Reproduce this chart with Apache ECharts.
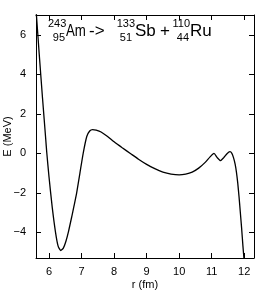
<!DOCTYPE html>
<html>
<head>
<meta charset="utf-8">
<script src="https://cdn.jsdelivr.net/npm/echarts@6/dist/echarts.min.js"></script>
<style>html,body{margin:0;padding:0;background:#fff;}#c{width:261px;height:294px;}</style>
</head>
<body>
<div id="c"></div>
<script>
const rValues = [5.60, 5.70, 5.80, 5.90, 5.93, 6.00, 6.10, 6.20, 6.28, 6.36, 6.44, 6.52, 6.60, 6.70, 6.77, 6.85, 6.95, 7.05, 7.16, 7.25, 7.34, 7.45, 7.60, 7.80, 8.00, 8.25, 8.50, 8.75, 9.00, 9.25, 9.50, 9.75, 10.00, 10.20, 10.40, 10.60, 10.80, 10.95, 11.07, 11.17, 11.27, 11.37, 11.47, 11.56, 11.62, 11.67, 11.72, 11.76, 11.80, 11.84, 11.88, 11.92, 11.96, 12.00];
const eValues = [7.30, 5.00, 2.80, 0.70, 0.05, -1.20, -2.75, -4.00, -4.70, -4.92, -4.80, -4.45, -3.95, -3.20, -2.65, -2.00, -1.00, 0.00, 0.85, 1.13, 1.20, 1.17, 1.08, 0.85, 0.58, 0.28, -0.01, -0.30, -0.56, -0.78, -0.95, -1.05, -1.09, -1.05, -0.95, -0.75, -0.46, -0.18, 0.00, -0.22, -0.37, -0.22, -0.02, 0.08, 0.00, -0.22, -0.55, -0.95, -1.50, -2.20, -3.00, -3.80, -4.70, -5.50];
const xName = 'r (fm)';
const yName = 'E (MeV)';

const seriesData = rValues.map((r, i) => [r, eValues[i]]);
const font = 'Liberation Sans, Arial, sans-serif';
const black = '#000';

const chart = echarts.init(document.getElementById('c'), null, {renderer: 'canvas'});
const axisCommon = {
  type: 'value',
  axisLine: {show: true, onZero: false, lineStyle: {color: black, width: 1}},
  axisTick: {show: true, inside: true, length: 5, lineStyle: {color: black}},
  splitLine: {show: false}
};
const option = {
  backgroundColor: '#fff',
  animation: false,
  grid: {left: 36, right: 7, top: 15, bottom: 36, containLabel: false, outerBoundsMode: 'none'},
  xAxis: [
    Object.assign({}, axisCommon, {
      min: 5.6, max: 12.3, splitNumber: 6, position: 'bottom',
      axisLabel: {show: true, fontSize: 11, color: black, fontFamily: font, margin: 8, showMinLabel: false, showMaxLabel: false},
      name: xName, nameLocation: 'middle', nameGap: 21, nameMoveOverlap: false,
      nameTextStyle: {fontSize: 11, color: black, fontFamily: font}
    }),
    Object.assign({}, axisCommon, {
      min: 5.6, max: 12.3, splitNumber: 6, position: 'top',
      axisLabel: {show: false}
    })
  ],
  yAxis: [
    Object.assign({}, axisCommon, {
      min: -5.3, max: 7, splitNumber: 6, position: 'left',
      axisLabel: {show: true, fontSize: 11, color: black, fontFamily: font, margin: 10, showMinLabel: false, showMaxLabel: false,
        formatter: v => String(v).replace('-', '\u2212')},
      name: yName, nameLocation: 'middle', nameGap: 23, nameMoveOverlap: false,
      nameTextStyle: {fontSize: 11, color: black, fontFamily: font}
    }),
    Object.assign({}, axisCommon, {
      min: -5.3, max: 7, splitNumber: 6, position: 'right',
      axisLabel: {show: false}
    })
  ],
  series: [{
    type: 'line',
    xAxisIndex: 0, yAxisIndex: 0,
    data: seriesData,
    showSymbol: false,
    smooth: 0.2,
    clip: true,
    lineStyle: {color: black, width: 1.3}
  }],
  graphic: [
    {type: 'text', x: 48, y: 24, style: {text: '243', fontSize: 11, fontFamily: font, fill: black, align: 'left', verticalAlign: 'middle'}},
    {type: 'text', x: 65, y: 38, style: {text: '95', fontSize: 11, fontFamily: font, fill: black, align: 'right', verticalAlign: 'middle'}},
    {type: 'text', x: 66, y: 31, scaleX: 0.78, style: {text: 'Am', fontSize: 17, fontFamily: font, fill: black, align: 'left', verticalAlign: 'middle'}},
    {type: 'text', x: 89, y: 31, style: {text: '->', fontSize: 17, fontFamily: font, fill: black, align: 'left', verticalAlign: 'middle'}},
    {type: 'text', x: 135, y: 24, style: {text: '133', fontSize: 11, fontFamily: font, fill: black, align: 'right', verticalAlign: 'middle'}},
    {type: 'text', x: 132, y: 38, style: {text: '51', fontSize: 11, fontFamily: font, fill: black, align: 'right', verticalAlign: 'middle'}},
    {type: 'text', x: 135, y: 31, style: {text: 'Sb', fontSize: 17, fontFamily: font, fill: black, align: 'left', verticalAlign: 'middle'}},
    {type: 'text', x: 160, y: 31, style: {text: '+', fontSize: 17, fontFamily: font, fill: black, align: 'left', verticalAlign: 'middle'}},
    {type: 'text', x: 190, y: 24, style: {text: '110', fontSize: 11, fontFamily: font, fill: black, align: 'right', verticalAlign: 'middle'}},
    {type: 'text', x: 189, y: 38, style: {text: '44', fontSize: 11, fontFamily: font, fill: black, align: 'right', verticalAlign: 'middle'}},
    {type: 'text', x: 190, y: 31, style: {text: 'Ru', fontSize: 17, fontFamily: font, fill: black, align: 'left', verticalAlign: 'middle'}}
  ]
};
chart.setOption(option);
</script>
</body>
</html>
